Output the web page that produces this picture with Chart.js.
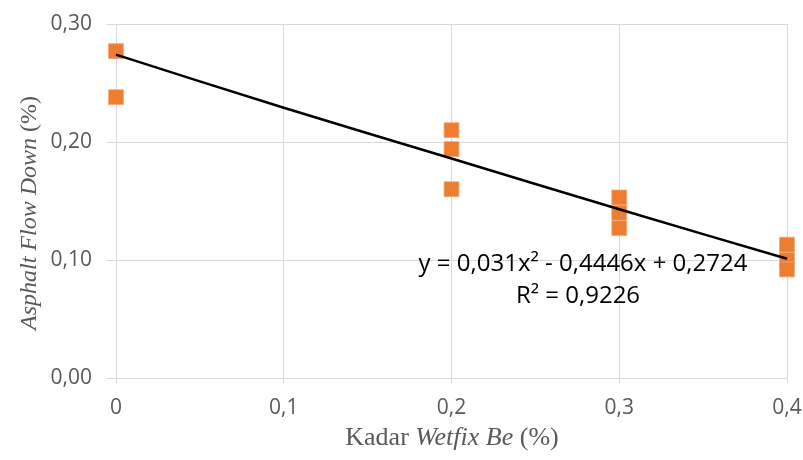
<!DOCTYPE html>
<html>
<head>
<meta charset="utf-8">
<script src="https://cdn.jsdelivr.net/npm/chart.js@4.4.0/dist/chart.umd.min.js"></script>
<style>
  html, body { margin: 0; padding: 0; background: #fff; }
  #wrap { width: 803px; height: 460px; position: relative; }
</style>
</head>
<body>
<div id="wrap"><canvas id="chart"></canvas></div>
<script>
// Dados
const wetfixX = [0, 0, 0.2, 0.2, 0.2, 0.3, 0.3, 0.3, 0.4, 0.4, 0.4];
const flowDown = [0.277, 0.238, 0.210, 0.194, 0.160, 0.153, 0.140, 0.127, 0.113, 0.100, 0.092];

// Linha de tendência (polinomial)
const trendX = [0, 0.1, 0.2, 0.3, 0.4];
const trendY = [0.274, 0.229, 0.186, 0.143, 0.101];

const equationText = 'y = 0,031x² - 0,4446x + 0,2724';
const r2Text = 'R² = 0,9226';

const xTitleParts = [['Kadar ', false], ['Wetfix Be', true], [' (%)', false]];
const yTitleParts = [['Asphalt Flow Down', true], [' (%)', false]];

const grey = '#595959';
const gridColor = '#d9d9d9';
const tickFont = { family: 'Open Sans', size: 21 };

// Desenha títulos com partes em itálico e a equação
const textPlugin = {
    id: 'textPlugin',
    afterDraw(chart) {
        const ctx = chart.ctx;

        function drawParts(parts, size) {
            let total = 0;
            parts.forEach(p => {
                ctx.font = (p[1] ? 'italic ' : '') + size + 'px "Liberation Serif"';
                total += ctx.measureText(p[0]).width;
            });
            let x = -total / 2;
            parts.forEach(p => {
                ctx.font = (p[1] ? 'italic ' : '') + size + 'px "Liberation Serif"';
                ctx.fillText(p[0], x, 0);
                x += ctx.measureText(p[0]).width;
            });
        }

        ctx.save();
        ctx.fillStyle = grey;
        ctx.textBaseline = 'middle';
        ctx.textAlign = 'left';

        // Título eixo X
        ctx.save();
        ctx.translate(452, 438);
        drawParts(xTitleParts, 26);
        ctx.restore();

        // Título eixo Y
        ctx.save();
        ctx.translate(30, 213);
        ctx.rotate(-Math.PI / 2);
        drawParts(yTitleParts, 24);
        ctx.restore();

        // Equação da linha de tendência
        ctx.fillStyle = '#000';
        ctx.textAlign = 'center';
        ctx.font = '24px "Open Sans"';
        ctx.fillText(equationText, 583, 264);
        ctx.fillText(r2Text, 578, 296);
        ctx.restore();
    }
};

const ctx = document.getElementById('chart').getContext('2d');

new Chart(ctx, {
    type: 'scatter',
    data: {
        datasets: [
            {
                label: 'Tendência',
                type: 'line',
                data: trendX.map((x, i) => ({ x: x, y: trendY[i] })),
                borderColor: '#000',
                borderWidth: 2.5,
                pointRadius: 0,
                fill: false,
                tension: 0.4,
                order: 0,
                clip: false
            },
            {
                label: 'Asphalt Flow Down',
                data: wetfixX.map((x, i) => ({ x: x, y: flowDown[i] })),
                pointStyle: 'rect',
                pointRadius: 10.5,
                pointHoverRadius: 10.5,
                backgroundColor: '#ED7D31',
                borderColor: '#F2A472',
                borderWidth: 0.8,
                order: 1,
                clip: false
            }
        ]
    },
    options: {
        responsive: true,
        maintainAspectRatio: false,
        animation: false,
        layout: { padding: { top: 24, right: 16, left: 0, bottom: 0 } },
        plugins: {
            legend: { display: false },
            tooltip: { enabled: false }
        },
        scales: {
            x: {
                type: 'linear',
                min: 0,
                max: 0.4,
                ticks: {
                    stepSize: 0.1,
                    color: grey,
                    font: tickFont,
                    padding: 12,
                    maxRotation: 0,
                    callback: v => v === 0 ? '0' : v.toFixed(1).replace('.', ',')
                },
                grid: { color: gridColor, lineWidth: 1, tickLength: 5 },
                border: { color: gridColor },
                afterFit(scale) {
                    scale.height = 82;
                    scale.paddingLeft = 0;
                    scale.paddingRight = 0;
                }
            },
            y: {
                min: 0,
                max: 0.3,
                ticks: {
                    stepSize: 0.1,
                    color: grey,
                    font: tickFont,
                    padding: 15,
                    callback: v => v.toFixed(2).replace('.', ',')
                },
                grid: { color: gridColor, lineWidth: 1, tickLength: 9 },
                border: { color: gridColor },
                afterFit(scale) {
                    scale.width = 116;
                    scale.paddingTop = 0;
                    scale.paddingBottom = 0;
                }
            }
        }
    },
    plugins: [textPlugin]
});
</script>
</body>
</html>
